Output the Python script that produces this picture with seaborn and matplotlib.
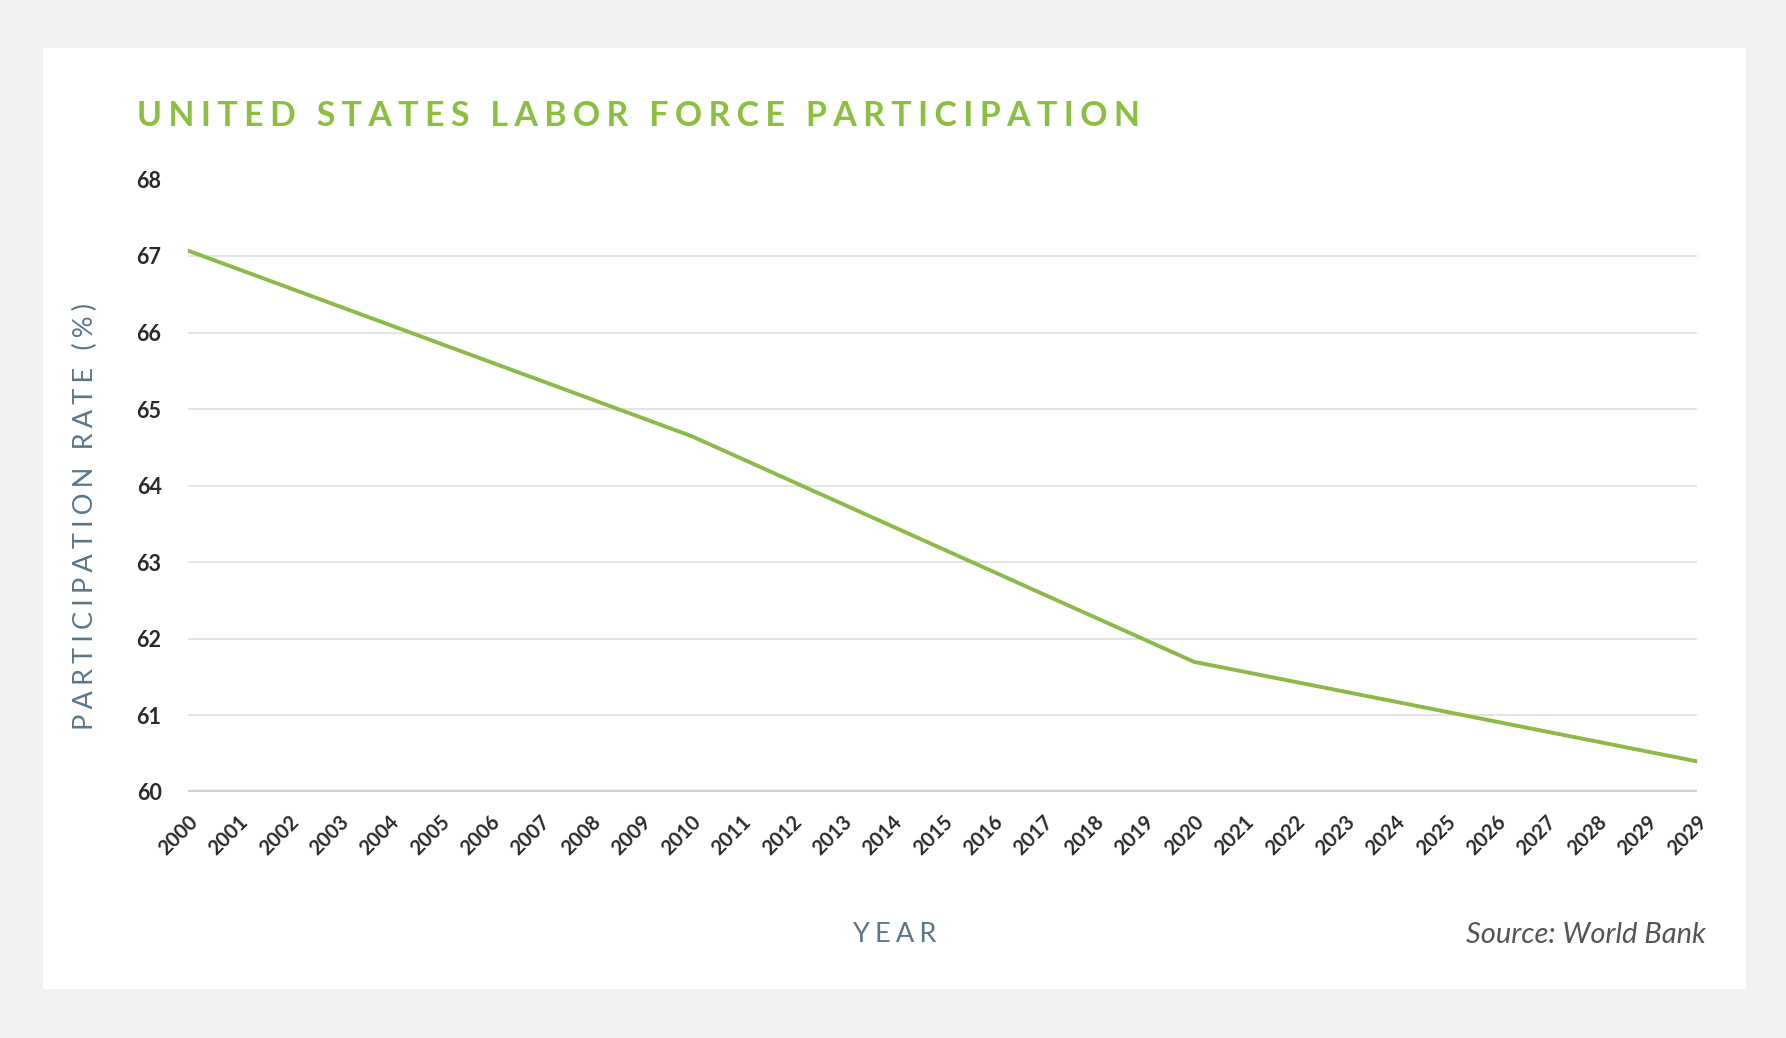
import matplotlib
matplotlib.use("Agg")
import matplotlib.pyplot as plt
from matplotlib.patches import Rectangle
import numpy as np
import pandas as pd
import seaborn as sns

# Labor force participation rate (%) readings
years = [2000, 2010, 2020, 2030]
rates = [67.07, 64.65, 61.70, 60.40]

# Tick labels along the year axis (the last slot repeats 2029)
tick_years = list(range(2000, 2031))
tick_labels = [str(y) for y in range(2000, 2030)] + ["2029"]
y_ticks = [60, 61, 62, 63, 64, 65, 66, 67, 68]

title_text = "UNITED STATES LABOR FORCE PARTICIPATION"
ylabel_text = "PARTICIPATION RATE (%)"
xlabel_text = "YEAR"
source_text = "Source: World Bank"

GREEN_TITLE = "#8cbf3f"
GREEN_LINE = "#8db84a"
SLATE = "#5a7688"
DARK = "#2a2a2a"

sns.set_theme(style="white")
plt.rcParams["font.family"] = ["Lato", "DejaVu Sans"]


def spaced(text, gap="\u2009"):
    """Spread capitals apart with thin spaces."""
    return gap.join(text)


df = pd.DataFrame({"year": years, "rate": rates})

fig = plt.figure(figsize=(17.86, 10.38), dpi=100)
fig.patch.set_facecolor("#f1f1f1")

# White card behind the chart
W, H = 1786, 1038
fig.add_artist(Rectangle((43 / W, 1 - 989 / H), (1746 - 43) / W, (989 - 48) / H,
                         transform=fig.transFigure, facecolor="white",
                         edgecolor="none", zorder=0))

ax = fig.add_axes([188 / W, 1 - 792 / H, (1697 - 188) / W, (792 - 179.4) / H])
ax.set_facecolor("none")

# horizontal gridlines (none at the top value), heavier baseline at 60
for v in y_ticks[1:-1]:
    ax.axhline(v, color="#e4e4e4", linewidth=1.4, zorder=1)
ax.axhline(60, color="#d2d2d2", linewidth=3.2, zorder=1)

sns.lineplot(data=df, x="year", y="rate", ax=ax, color=GREEN_LINE,
             linewidth=2.8, zorder=3)

ax.set_xlim(2000, 2030)
ax.set_ylim(60, 68)
ax.set_yticks(y_ticks)
ax.set_yticklabels([str(v) for v in y_ticks], fontsize=15.5, fontweight="bold",
                   color=DARK)
ax.set_xticks(tick_years)
ax.set_xticklabels(tick_labels, rotation=45, ha="right", rotation_mode="anchor",
                   fontsize=14.5, fontweight="bold", color=DARK)
ax.tick_params(axis="y", length=0, pad=19)
ax.tick_params(axis="x", length=0, pad=14)
for s in ax.spines.values():
    s.set_visible(False)
ax.set_xlabel("")
ax.set_ylabel("")
ax.grid(False)

fig.text(137 / W, 1 - 116 / H, spaced(title_text, "\u2009\u200a"), fontsize=24.4,
         fontweight="bold", color=GREEN_TITLE, ha="left", va="center")
fig.text(85 / W, 1 - 517 / H, spaced(ylabel_text, "\u2009\u200a"), fontsize=19.5,
         color=SLATE, rotation=90, ha="center", va="center")
fig.text(895 / W, 1 - 935 / H, spaced(xlabel_text, "\u2009\u200a"), fontsize=19.5,
         color=SLATE, ha="center", va="center")
fig.text(1706 / W, 1 - 935 / H, source_text, fontsize=21, style="italic",
         color="#555555", ha="right", va="center")

fig.savefig("out.png", dpi=100, facecolor=fig.get_facecolor())
